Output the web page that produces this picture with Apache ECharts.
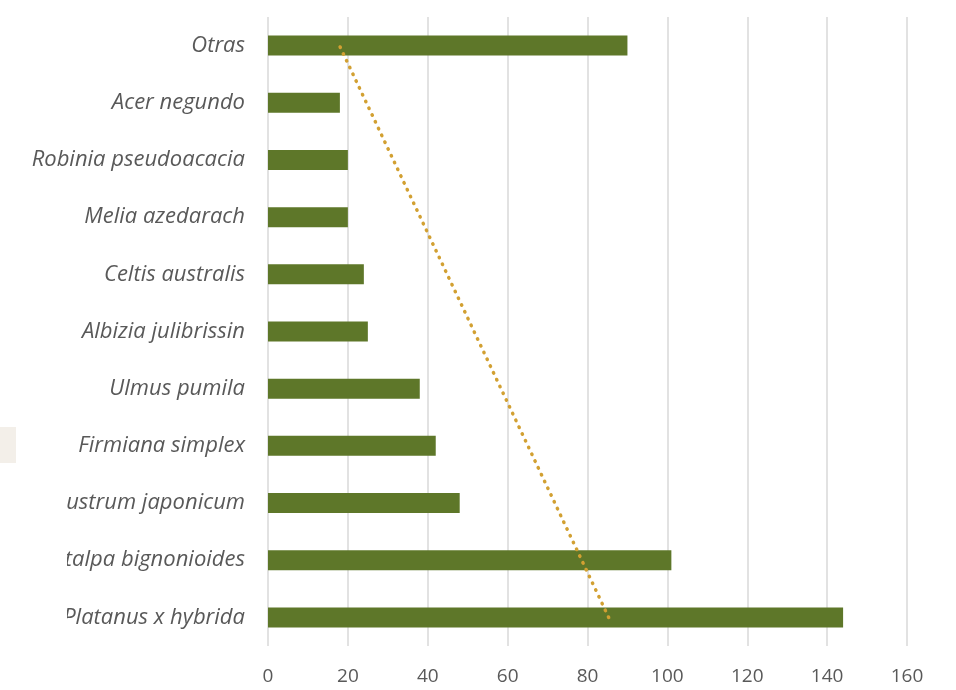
<!DOCTYPE html>
<html>
<head>
<meta charset="utf-8">
<script src="https://cdn.jsdelivr.net/npm/echarts@6/dist/echarts.min.js"></script>
<style>
html,body{margin:0;padding:0;background:#fff;}
#chart{width:956px;height:690px;}
</style>
</head>
<body>
<div id="chart"></div>
<script>
const categories = ['Platanus x hybrida', 'Catalpa bignonioides', 'Ligustrum japonicum', 'Firmiana simplex', 'Ulmus pumila', 'Albizia julibrissin', 'Celtis australis', 'Melia azedarach', 'Robinia pseudoacacia', 'Acer negundo', 'Otras'];
const values = [144, 101, 48, 42, 38, 25, 24, 20, 20, 18, 90];
const trendEnds = [85.3, 17.9];
const xTicks = [0, 20, 40, 60, 80, 100, 120, 140, 160];

const chart = echarts.init(document.getElementById('chart'), null, {renderer: 'canvas'});
chart.setOption({
  animation: false,
  backgroundColor: '#ffffff',
  grid: {left: 268, right: 49, top: 17, bottom: 44, containLabel: false},
  graphic: [
    {type: 'rect', z: 100, shape: {x: 0, y: 475, width: 67, height: 170}, style: {fill: '#ffffff'}},
    {type: 'rect', z: 100, shape: {x: 0, y: 427, width: 16, height: 36}, style: {fill: '#F3EFE9'}}
  ],
  xAxis: {
    type: 'value', min: xTicks[0], max: xTicks[xTicks.length - 1], interval: 20,
    axisLine: {show: false}, axisTick: {show: false},
    splitLine: {show: true, lineStyle: {color: '#d9d9d9', width: 1.5}},
    axisLabel: {color: '#595959', fontSize: 19, fontFamily: 'Open Sans', margin: 21}
  },
  yAxis: {
    type: 'category', data: categories,
    axisLine: {show: false}, axisTick: {show: false}, splitLine: {show: false},
    axisLabel: {color: '#595959', fontSize: 22, fontStyle: 'italic', fontFamily: 'Open Sans', margin: 23}
  },
  series: [
    {type: 'bar', data: values, barWidth: 20, itemStyle: {color: '#5E7729'}, z: 2},
    {type: 'line', data: [[trendEnds[0], categories[0]], [trendEnds[1], categories[categories.length - 1]]],
     symbol: 'none', z: 3,
     lineStyle: {color: '#D2A032', width: 3.5, type: [0.5, 7], cap: 'round'}}
  ]
});
</script>
</body>
</html>
